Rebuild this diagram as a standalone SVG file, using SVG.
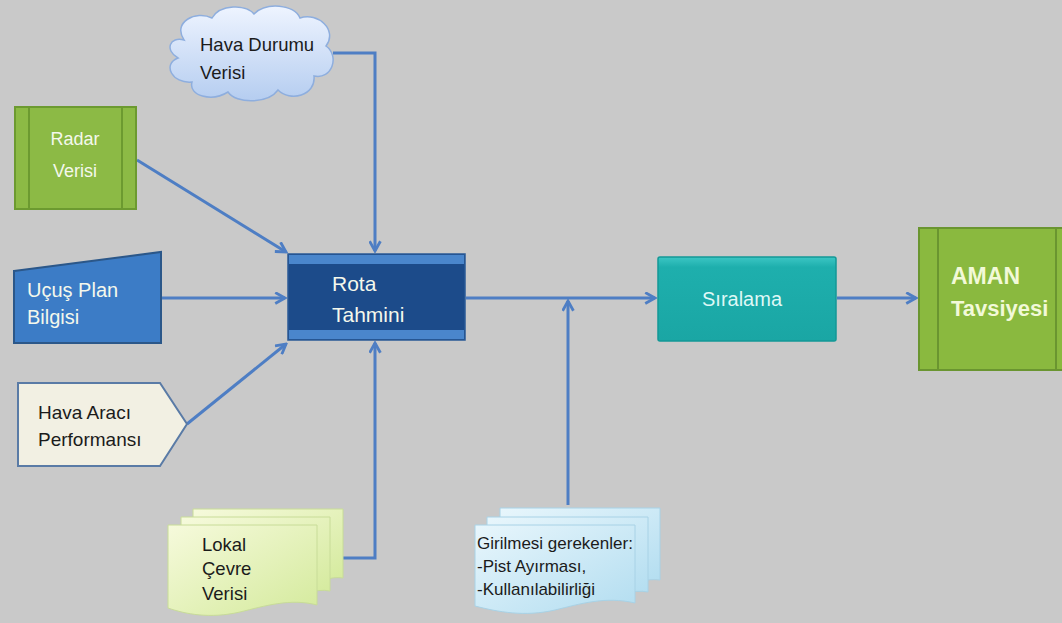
<svg xmlns="http://www.w3.org/2000/svg" width="1062" height="623" viewBox="0 0 1062 623">
  <style>
    text { font-family: "Liberation Sans", Arial, sans-serif; }
    .conn { fill: none; stroke: #4e7ec4; stroke-width: 3; }
    .light { fill: #f4f8ec; }
    .dark { fill: #1b1b1b; }
  </style>
  <defs>
    <marker id="arrow" viewBox="0 0 12 12" refX="10.5" refY="6" markerWidth="13" markerHeight="13" markerUnits="userSpaceOnUse" orient="auto">
      <path d="M1.5,1 L10.5,6 L1.5,11" fill="none" stroke="#4e7ec4" stroke-width="2.6" stroke-linejoin="miter"/>
    </marker>
    <linearGradient id="cloudFill" x1="0" y1="0" x2="0" y2="1">
      <stop offset="0" stop-color="#eef4ff"/>
      <stop offset="1" stop-color="#b5cdf0"/>
    </linearGradient>
    <linearGradient id="greenDoc" x1="0" y1="0" x2="1" y2="1">
      <stop offset="0" stop-color="#f6fadc"/>
      <stop offset="1" stop-color="#d4ea9c"/>
    </linearGradient>
    <linearGradient id="blueDoc" x1="0" y1="0" x2="1" y2="1">
      <stop offset="0" stop-color="#e8f6fc"/>
      <stop offset="1" stop-color="#b2ddf0"/>
    </linearGradient>
    <linearGradient id="tealFill" x1="0" y1="0" x2="0" y2="1">
      <stop offset="0" stop-color="#3cc6c4"/>
      <stop offset="0.12" stop-color="#1eafad"/>
      <stop offset="1" stop-color="#1aa6a4"/>
    </linearGradient>
  </defs>

  <rect x="0" y="0" width="1062" height="623" fill="#c9c9c9"/>

  <!-- connectors -->
  <g id="connectors">
    <polyline class="conn" points="333,53 375,53 375,251" marker-end="url(#arrow)"/>
    <line class="conn" x1="137" y1="160" x2="286" y2="252" marker-end="url(#arrow)"/>
    <line class="conn" x1="162" y1="298" x2="285" y2="298" marker-end="url(#arrow)"/>
    <line class="conn" x1="187" y1="424" x2="286" y2="344" marker-end="url(#arrow)"/>
    <polyline class="conn" points="342,558 375,558 375,343" marker-end="url(#arrow)"/>
    <line class="conn" x1="466" y1="298" x2="655" y2="298" marker-end="url(#arrow)"/>
    <line class="conn" x1="568" y1="505" x2="568" y2="301" marker-end="url(#arrow)"/>
    <line class="conn" x1="837" y1="298" x2="916" y2="298" marker-end="url(#arrow)"/>
  </g>

  <!-- weather data cloud -->
  <g id="hava-durumu">
    <path d="M184,40 C172,22 196,10 212,18 C220,4 246,4 254,14 C266,2 294,4 300,18 C318,12 338,30 326,46 C340,56 332,80 314,76 C316,96 290,102 278,90 C268,104 236,104 228,92 C212,102 188,96 192,82 C172,84 162,64 178,58 C164,50 170,36 184,40 Z" fill="url(#cloudFill)" stroke="#8eaede" stroke-width="1.5"/>
    <text class="dark" x="200" y="51" font-size="18.5">Hava Durumu</text>
    <text class="dark" x="200" y="79" font-size="18.5">Verisi</text>
  </g>

  <!-- radar data -->
  <g id="radar-verisi">
    <rect x="15" y="107" width="121" height="102" fill="#8cba45" stroke="#6c9a30" stroke-width="2"/>
    <line x1="29" y1="107" x2="29" y2="209" stroke="#6c9a30" stroke-width="2"/>
    <line x1="122" y1="107" x2="122" y2="209" stroke="#6c9a30" stroke-width="2"/>
    <text class="light" x="75" y="145" text-anchor="middle" font-size="18">Radar</text>
    <text class="light" x="75" y="177" text-anchor="middle" font-size="18">Verisi</text>
  </g>

  <!-- flight plan -->
  <g id="ucus-plan">
    <polygon points="14,271 161,252 161,343 14,343" fill="#3c7cc6" stroke="#2b5789" stroke-width="2"/>
    <text class="light" x="27" y="297" font-size="20">Uçuş Plan</text>
    <text class="light" x="27" y="324" font-size="20">Bilgisi</text>
  </g>

  <!-- aircraft performance -->
  <g id="hava-araci">
    <polygon points="18,383 160,383 187,424 160,466 18,466" fill="#f2f0e3" stroke="#5a7ba6" stroke-width="2"/>
    <text class="dark" x="38" y="419" font-size="19">Hava Aracı</text>
    <text class="dark" x="38" y="446" font-size="19">Performansı</text>
  </g>

  <!-- route prediction -->
  <g id="rota-tahmini">
    <rect x="288" y="254" width="177" height="86" fill="#1c4b8a" stroke="#2a5a96" stroke-width="1.5"/>
    <rect x="289" y="255" width="175" height="9" fill="#4a86cc"/>
    <rect x="289" y="330" width="175" height="9" fill="#4a86cc"/>
    <text class="light" x="332" y="291" font-size="21">Rota</text>
    <text class="light" x="332" y="322" font-size="21">Tahmini</text>
  </g>

  <!-- sequencing -->
  <g id="siralama">
    <rect x="658" y="257" width="178" height="84" rx="2" fill="url(#tealFill)" stroke="#139896" stroke-width="1.5"/>
    <text x="742" y="306" text-anchor="middle" font-size="20" fill="#def8f6">Sıralama</text>
  </g>

  <!-- AMAN advisory -->
  <g id="aman-tavsiyesi">
    <rect x="919" y="228" width="150" height="142" fill="#8ab93f" stroke="#6a9530" stroke-width="2"/>
    <line x1="938" y1="228" x2="938" y2="370" stroke="#6a9530" stroke-width="2"/>
    <line x1="1056" y1="228" x2="1056" y2="370" stroke="#6a9530" stroke-width="2"/>
    <text x="951" y="284" font-size="23" font-weight="bold" fill="#f2f9d8">AMAN</text>
    <text x="951" y="316" font-size="22" font-weight="bold" fill="#f2f9d8">Tavsiyesi</text>
  </g>

  <!-- local environment data -->
  <g id="lokal-cevre">
    <path d="M193,509 L343,509 L343,578 C330,576 320,582 310,584 L193,584 Z" fill="url(#greenDoc)" stroke="#c8dc98" stroke-width="1"/>
    <path d="M181,517 L330,517 L330,591 C315,588 300,596 285,598 L181,598 Z" fill="url(#greenDoc)" stroke="#c8dc98" stroke-width="1"/>
    <path d="M168,525 L317,525 L317,605 C290,598 265,606 240,612 C210,619 185,614 168,608 Z" fill="url(#greenDoc)" stroke="#c8dc98" stroke-width="1"/>
    <text class="dark" x="202" y="551" font-size="18.5">Lokal</text>
    <text class="dark" x="202" y="575" font-size="18.5">Çevre</text>
    <text class="dark" x="202" y="600" font-size="18.5">Verisi</text>
  </g>

  <!-- required inputs -->
  <g id="girilmesi-gerekenler">
    <path d="M500,508 L660,508 L660,580 C645,578 635,584 625,586 L500,586 Z" fill="url(#blueDoc)" stroke="#a8d2e6" stroke-width="1"/>
    <path d="M487,517 L648,517 L648,592 C632,589 618,596 602,599 L487,599 Z" fill="url(#blueDoc)" stroke="#a8d2e6" stroke-width="1"/>
    <path d="M475,525 L635,525 L635,603 C605,596 580,604 555,610 C525,617 498,612 475,606 Z" fill="url(#blueDoc)" stroke="#a8d2e6" stroke-width="1"/>
    <text class="dark" x="477" y="549" font-size="17">Girilmesi gerekenler:</text>
    <text class="dark" x="477" y="572" font-size="17">-Pist Ayırması,</text>
    <text class="dark" x="477" y="595" font-size="17">-Kullanılabilirliği</text>
  </g>
</svg>
